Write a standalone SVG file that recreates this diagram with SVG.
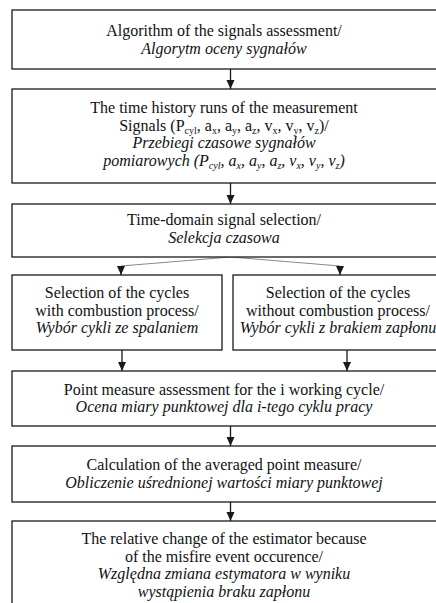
<svg xmlns="http://www.w3.org/2000/svg" width="436" height="603" viewBox="0 0 436 603">
<style>
.box{fill:#fff;stroke:#1a1a1a;stroke-width:1.3}
text{font-family:"Liberation Serif","Times New Roman",serif;font-size:16px;fill:#111;text-anchor:middle}
.it{font-style:italic}
.sub{font-size:10px}
.con{fill:none;stroke:#1a1a1a;stroke-width:1.3}
.thin{fill:none;stroke:#888;stroke-width:1}
</style>
<defs>
<marker id="ah" markerUnits="userSpaceOnUse" markerWidth="10" markerHeight="9" refX="9" refY="4" orient="auto"><path d="M0,0 L9,4 L0,8 z" fill="#1a1a1a"/></marker>
</defs>
<g id="connectors">
<path class="con" d="M230.5,69 V89" marker-end="url(#ah)"/>
<path class="con" d="M230.5,183 V204" marker-end="url(#ah)"/>
<path class="thin" d="M230.5,257 L121,266"/>
<path class="thin" d="M230.5,257 L340,266"/>
<path class="con" d="M121,266 V275" marker-end="url(#ah)"/>
<path class="con" d="M340,266 V275" marker-end="url(#ah)"/>
<path class="con" d="M122,350 V371" marker-end="url(#ah)"/>
<path class="con" d="M347,350 V371" marker-end="url(#ah)"/>
<path class="con" d="M230.5,426 V446" marker-end="url(#ah)"/>
<path class="con" d="M230.5,502 V521" marker-end="url(#ah)"/>
</g>
<g id="n1">
<rect class="box" x="12" y="10" width="428" height="59"/>
<text x="224" y="36">Algorithm of the signals assessment/</text>
<text class="it" x="224" y="53.5">Algorytm oceny sygnałów</text>
</g>
<g id="n2">
<rect class="box" x="12" y="89" width="428" height="94"/>
<text x="224" y="113">The time history runs of the measurement</text>
<text x="224" y="130.7">Signals (P<tspan class="sub" dy="3">cyl</tspan><tspan dy="-3">, a</tspan><tspan class="sub" dy="3">x</tspan><tspan dy="-3">, a</tspan><tspan class="sub" dy="3">y</tspan><tspan dy="-3">, a</tspan><tspan class="sub" dy="3">z</tspan><tspan dy="-3">, v</tspan><tspan class="sub" dy="3">x</tspan><tspan dy="-3">, v</tspan><tspan class="sub" dy="3">y</tspan><tspan dy="-3">, v</tspan><tspan class="sub" dy="3">z</tspan><tspan dy="-3">)/</tspan></text>
<text class="it" x="224" y="148.4">Przebiegi czasowe sygnałów</text>
<text class="it" x="224" y="166.1">pomiarowych (P<tspan class="sub" dy="3">cyl</tspan><tspan dy="-3">, a</tspan><tspan class="sub" dy="3">x</tspan><tspan dy="-3">, a</tspan><tspan class="sub" dy="3">y</tspan><tspan dy="-3">, a</tspan><tspan class="sub" dy="3">z</tspan><tspan dy="-3">, v</tspan><tspan class="sub" dy="3">x</tspan><tspan dy="-3">, v</tspan><tspan class="sub" dy="3">y</tspan><tspan dy="-3">, v</tspan><tspan class="sub" dy="3">z</tspan><tspan dy="-3">)</tspan></text>
</g>
<g id="n3">
<rect class="box" x="12" y="204" width="428" height="53"/>
<text x="224" y="225">Time-domain signal selection/</text>
<text class="it" x="224" y="242.7">Selekcja czasowa</text>
</g>
<g id="n4">
<rect class="box" x="12" y="275" width="210" height="75"/>
<text x="117" y="298">Selection of the cycles</text>
<text x="117" y="315.7">with combustion process/</text>
<text class="it" x="117" y="333.4">Wybór cykli ze spalaniem</text>
</g>
<g id="n5">
<rect class="box" x="233" y="275" width="210" height="75"/>
<text x="338" y="298">Selection of the cycles</text>
<text x="338" y="315.7">without combustion process/</text>
<text class="it" x="338" y="333.4">Wybór cykli z brakiem zapłonu</text>
</g>
<g id="n6">
<rect class="box" x="12" y="371" width="428" height="55"/>
<text x="224" y="394.5">Point measure assessment for the i working cycle/</text>
<text class="it" x="224" y="412.2">Ocena miary punktowej dla i-tego cyklu pracy</text>
</g>
<g id="n7">
<rect class="box" x="12" y="446" width="428" height="56"/>
<text x="224" y="470">Calculation of the averaged point measure/</text>
<text class="it" x="224" y="487.7">Obliczenie uśrednionej wartości miary punktowej</text>
</g>
<g id="n8">
<rect class="box" x="12" y="521" width="428" height="90"/>
<text x="224" y="544">The relative change of the estimator because</text>
<text x="224" y="561.7">of the misfire event occurence/</text>
<text class="it" x="224" y="579.4">Względna zmiana estymatora w wyniku</text>
<text class="it" x="224" y="597.1">wystąpienia braku zapłonu</text>
</g>
</svg>
